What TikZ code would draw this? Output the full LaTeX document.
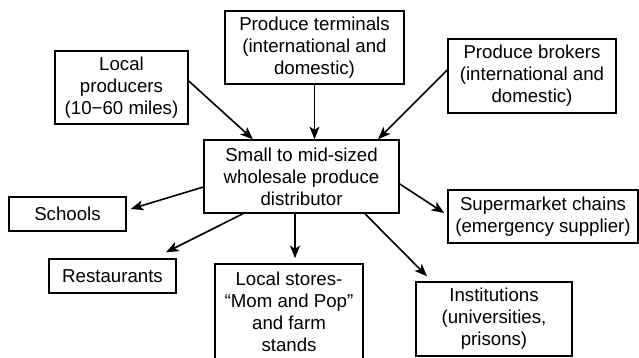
\documentclass[tikz,border=0pt]{standalone}
\usepackage{fontspec}
\setmainfont{Liberation Sans}
\usetikzlibrary{arrows.meta}

\tikzset{
  box/.style={draw, line width=1.1pt, align=center, inner sep=0pt,
    font=\fontsize{14}{16.5}\selectfont},
  flow/.style={-{Stealth[length=9.5pt, width=7.5pt, inset=2.5pt]}, line width=1.2pt},
}

\begin{document}
\begin{tikzpicture}[x=0.75pt, y=-0.75pt]
    \useasboundingbox (0,0) rectangle (639,357);

    % Suppliers
    \node[box, minimum width=99.75pt, minimum height=54.75pt] (prod) at (121.5,87.5)
        {Local\\producers\\(10−60 miles)};
    \node[box, minimum width=134.25pt, minimum height=54.75pt] (term) at (314.5,47.5)
        {Produce terminals\\(international and\\domestic)};
    \node[box, minimum width=126pt, minimum height=55.5pt] (brok) at (532,76)
        {Produce brokers\\(international and\\domestic)};

    % Distributor
    \node[box, minimum width=146.25pt, minimum height=54.75pt] (dist) at (301.5,176.5)
        {Small to mid-sized\\wholesale produce\\distributor};

    % Customers
    \node[box, minimum width=87.75pt, minimum height=25.5pt] (schools) at (67.5,214) {Schools};
    \node[box, minimum width=95.25pt, minimum height=25.5pt] (rest) at (112.5,276) {Restaurants};
    \node[box, minimum width=111pt, minimum height=72pt] (stores) at (289,312)
        {Local stores-\\“Mom and Pop”\\and farm\\stands};
    \node[box, minimum width=142.5pt, minimum height=39.75pt] (super) at (543,216.5)
        {Supermarket chains\\(emergency supplier)};
    \node[box, minimum width=117pt, minimum height=55.5pt] (inst) at (494,319)
        {Institutions\\(universities,\\prisons)};

    % Incoming flows
    \draw[flow] ([yshift=4.9pt]prod.east) -- ([xshift=-36.4pt]dist.north);
    \draw[flow] (term.south) -- (term.south |- dist.north);
    \draw[flow] ([yshift=4.5pt]brok.west) -- ([xshift=57.4pt]dist.north);

    % Outgoing flows
    \draw[flow] ([yshift=-7.9pt]dist.west) -- ([xshift=3pt, yshift=3.75pt]schools.east);
    \draw[flow] ([xshift=-43.9pt]dist.south) -- ([xshift=40.1pt, yshift=4.5pt]rest.north);
    \draw[flow] ([xshift=-4.9pt]dist.south) -- ([xshift=4.5pt, yshift=3.75pt]stores.north);
    \draw[flow] ([yshift=-5.6pt]dist.east) -- ([xshift=-2.25pt, yshift=2.6pt]super.west);
    \draw[flow] ([xshift=47.6pt]dist.south) -- ([xshift=-50.25pt, yshift=3.75pt]inst.north);
\end{tikzpicture}
\end{document}
